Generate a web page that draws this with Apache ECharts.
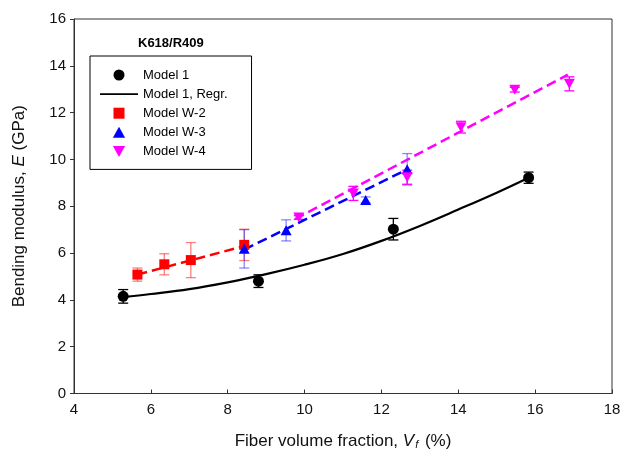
<!DOCTYPE html>
<html>
<head>
<meta charset="utf-8">
<script src="https://cdn.jsdelivr.net/npm/echarts@6/dist/echarts.min.js"></script>
<style>
  html, body { margin: 0; padding: 0; background: #fff; }
  #chart { width: 624px; height: 458px; }
</style>
</head>
<body>
<div id="chart"></div>
<script>
// Axis ranges / ticks
const xTicks = [4, 6, 8, 10, 12, 14, 16, 18];
const yTicks = [0, 2, 4, 6, 8, 10, 12, 14, 16];

// Model 1: [Vf, E, error]
const model1 = [[5.28, 4.15, 0.29], [8.80, 4.80, 0.27], [12.31, 7.02, 0.46], [15.83, 9.22, 0.24]];
// Model 1 regression curve
const model1RegrX = [5.28, 6.0, 7.0, 8.0, 9.0, 10.0, 11.0, 12.0, 13.0, 14.0, 15.0, 15.83];
const model1RegrY = [4.12, 4.25, 4.46, 4.75, 5.10, 5.50, 5.96, 6.52, 7.16, 7.86, 8.58, 9.22];

// Model W-2
const modelW2 = [[5.65, 5.08, 0.28], [6.35, 5.52, 0.45], [7.04, 5.70, 0.75], [8.43, 6.35, 0.67]];
const modelW2Fit = [[5.65, 5.08], [8.43, 6.30]];
// Model W-3
const modelW3 = [[8.43, 6.18, 0.82], [9.52, 6.97, 0.45], [11.59, 8.27, 0.13], [12.67, 9.58, 0.67]];
const modelW3Fit = [[8.43, 6.15], [12.70, 9.60]];
// Model W-4
const modelW4 = [[9.85, 7.52, 0.08], [11.27, 8.55, 0.30], [12.67, 9.24, 0.30], [14.07, 11.38, 0.25], [15.47, 12.98, 0.10], [16.89, 13.23, 0.30]];
const modelW4Fit = [[9.75, 7.45], [16.85, 13.62]];

// Marker shapes
const downTri = 'path://M0,0 L10,0 L5,9 Z';
const upTri = 'path://M5,0 L10,9 L0,9 Z';
const square = 'path://M0,0 L10,0 L10,10 L0,10 Z';
const lineIcon = 'path://M0,0 L40,0 L40,2 L0,2 Z';

function errorBars(name, data, color, z) {
  return {
    type: 'custom',
    name: name + ' err',
    data: data,
    z: z,
    silent: true,
    renderItem: function (params, api) {
      const x = api.value(0), y = api.value(1), e = api.value(2);
      const top = api.coord([x, y + e]);
      const bot = api.coord([x, y - e]);
      const hw = 5;
      const style = { stroke: color, lineWidth: 1.3 };
      return {
        type: 'group',
        children: [
          { type: 'line', shape: { x1: top[0], y1: top[1], x2: bot[0], y2: bot[1] }, style: style },
          { type: 'line', shape: { x1: top[0] - hw, y1: top[1], x2: top[0] + hw, y2: top[1] }, style: style },
          { type: 'line', shape: { x1: bot[0] - hw, y1: bot[1], x2: bot[0] + hw, y2: bot[1] }, style: style }
        ]
      };
    }
  };
}

function fitLine(data, color) {
  return {
    type: 'line',
    data: data,
    symbol: 'none',
    silent: true,
    z: 3,
    lineStyle: { color: color, width: 2.5, type: [10, 5] }
  };
}

const chart = echarts.init(document.getElementById('chart'), null, { renderer: 'canvas' });

const option = {
  animation: false,
  backgroundColor: '#fff',
  textStyle: { fontFamily: 'Liberation Sans, Arial, sans-serif' },
  grid: { left: 74, top: 19, right: 12, bottom: 64.5, show: true, borderColor: '#333', borderWidth: 1 },
  graphic: [{
    type: 'text',
    left: 138, top: 37,
    style: { text: 'K618/R409', font: 'bold 13px "Liberation Sans", Arial, sans-serif', fill: '#000' }
  }],
  legend: {
    orient: 'vertical',
    left: 90, top: 56,
    padding: [12, 24, 11, 10],
    borderColor: '#000', borderWidth: 1, borderRadius: 0,
    itemWidth: 38, itemHeight: 11, itemGap: 5.1,
    textStyle: { fontSize: 13, color: '#000', lineHeight: 14 },
    data: [
      { name: 'Model 1', icon: 'circle' },
      { name: 'Model 1, Regr.', icon: lineIcon },
      { name: 'Model W-2', icon: square, itemStyle: { color: '#ff0000' } },
      { name: 'Model W-3', icon: upTri },
      { name: 'Model W-4', icon: downTri }
    ]
  },
  xAxis: {
    type: 'value',
    min: xTicks[0], max: xTicks[xTicks.length - 1], interval: xTicks[1] - xTicks[0],
    axisLine: { lineStyle: { color: '#333' } },
    axisTick: { inside: true, length: 4, lineStyle: { color: '#333' } },
    axisLabel: { fontSize: 15, color: '#111', margin: 9 },
    splitLine: { show: false },
    name: 'Fiber volume fraction, {i|V}{sub|f} (%)',
    nameLocation: 'middle', nameGap: 38,
    nameTextStyle: {
      fontSize: 17, color: '#111',
      rich: {
        i: { fontSize: 17, fontStyle: 'italic', color: '#111' },
        sub: { fontSize: 11, fontStyle: 'italic', color: '#111', padding: [8, 2, 0, 1] }
      }
    }
  },
  yAxis: {
    type: 'value',
    min: yTicks[0], max: yTicks[yTicks.length - 1], interval: yTicks[1] - yTicks[0],
    axisLine: { show: true, lineStyle: { color: '#333' } },
    axisTick: { show: true, inside: false, length: 4, lineStyle: { color: '#333' } },
    axisLabel: { fontSize: 15, color: '#111', margin: 8 },
    splitLine: { show: false },
    name: 'Bending modulus, {i|E} (GPa)',
    nameLocation: 'middle', nameGap: 46,
    nameTextStyle: {
      fontSize: 17, color: '#111',
      rich: { i: { fontSize: 17, fontStyle: 'italic', color: '#111' } }
    }
  },
  series: [
    errorBars('Model 1', model1, '#000', 2),
    errorBars('Model W-2', modelW2, 'rgba(255,40,40,0.6)', 2),
    errorBars('Model W-3', modelW3, 'rgba(40,40,255,0.55)', 2),
    errorBars('Model W-4', modelW4, '#ff00ff', 2),
    fitLine(modelW2Fit, '#ff0000'),
    fitLine(modelW3Fit, '#0000ff'),
    fitLine(modelW4Fit, '#ff00ff'),
    {
      name: 'Model 1, Regr.',
      type: 'line',
      smooth: 0.4,
      symbol: 'none',
      z: 3,
      data: model1RegrX.map((x, i) => [x, model1RegrY[i]]),
      lineStyle: { color: '#000', width: 2.2 },
      itemStyle: { color: '#000' }
    },
    {
      name: 'Model 1', type: 'scatter', symbol: 'circle', symbolSize: 11, z: 5,
      data: model1.map(d => [d[0], d[1]]), itemStyle: { color: '#000', opacity: 1 }
    },
    {
      name: 'Model W-2', type: 'scatter', symbol: square, symbolSize: 10, z: 5,
      data: modelW2.map(d => [d[0], d[1]]), itemStyle: { color: '#ff0000', opacity: 1 }
    },
    {
      name: 'Model W-3', type: 'scatter', symbol: upTri, symbolSize: [11, 10], z: 5,
      data: modelW3.map(d => [d[0], d[1]]), itemStyle: { color: '#0000ff', opacity: 1 }
    },
    {
      name: 'Model W-4', type: 'scatter', symbol: downTri, symbolSize: [11, 10], z: 5,
      data: modelW4.map(d => [d[0], d[1]]), itemStyle: { color: '#ff00ff', opacity: 1 }
    }
  ]
};

chart.setOption(option);
</script>
</body>
</html>
